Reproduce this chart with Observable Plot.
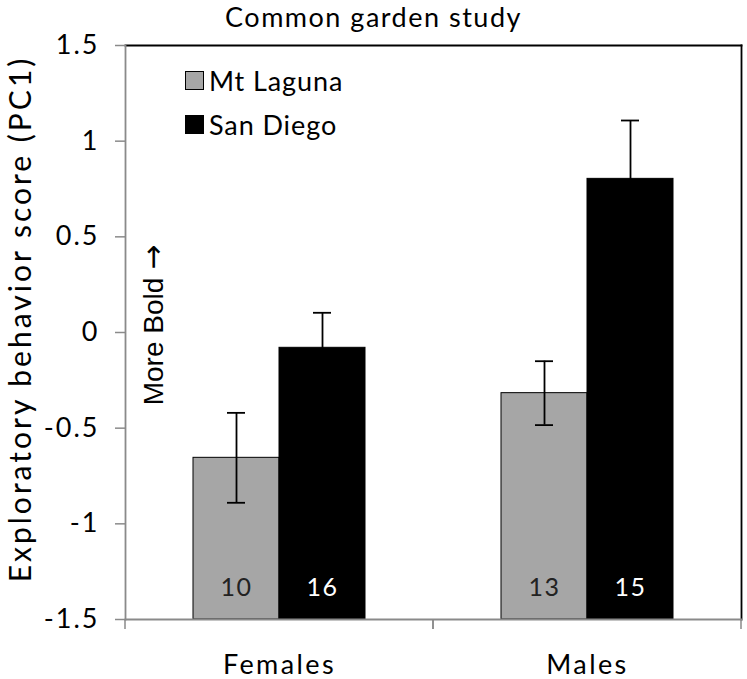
<!DOCTYPE html>
<html><head><meta charset="utf-8">
<script src="https://cdn.jsdelivr.net/npm/d3@7"></script>
<script src="https://cdn.jsdelivr.net/npm/@observablehq/plot@0.6"></script>
<style>
body{margin:0;background:#fff}
#wrap{position:relative;width:747px;height:679px;font-family:Lato,sans-serif;color:#000}
#title{position:absolute;left:0;width:747px;top:0;text-align:center;font-size:27px;line-height:34px;letter-spacing:1.5px}
.leg{position:absolute;left:185px;height:30px;display:flex;align-items:center;font-size:27px;letter-spacing:0.9px}
.sw{width:19px;height:19px;box-sizing:border-box;border:1px solid #000;margin-right:5px}
#bold{position:absolute;left:152px;top:325px;transform:translate(-50%,-50%) rotate(-90deg);font-family:"Liberation Sans",Arial,sans-serif;font-size:28px;white-space:nowrap}
#bold .arr{font-family:"DejaVu Sans",sans-serif;font-size:30px}
#ylab{position:absolute;left:19px;top:319px;transform:translate(-50%,-50%) rotate(-90deg);font-size:30px;letter-spacing:3px;white-space:nowrap}
g[aria-label="y-axis tick label"] text{letter-spacing:2px}
g[aria-label="fx-axis tick label"] text{letter-spacing:2.4px}
g[aria-label="text"] text{letter-spacing:1.5px}
</style></head><body><div id="wrap"></div>
<script>
const groups = ["Females", "Males"];
const populations = ["Mt Laguna", "San Diego"];
const popColors = ["#a6a6a6", "#000000"];
const mtLagunaMean = [-0.655, -0.317];
const sanDiegoMean = [-0.08, 0.803];
const mtLagunaErr = [0.235, 0.167];
const sanDiegoErr = [0.183, 0.305];
const mtLagunaN = [10, 13];
const sanDiegoN = [16, 15];
const yTicks = [1.5, 1, 0.5, 0, -0.5, -1, -1.5];
const yDomain = [-1.5, 1.5];
const title = "Common garden study";
const yLabel = "Exploratory behavior score (PC1)";
const boldNote = "More Bold";

const rows = groups.flatMap((g, i) => [
  {group: g, pop: populations[0], mean: mtLagunaMean[i], err: mtLagunaErr[i], n: mtLagunaN[i]},
  {group: g, pop: populations[1], mean: sanDiegoMean[i], err: sanDiegoErr[i], n: sanDiegoN[i]}
]);

function categoryTicks(index, scales, values, dimensions) {
  const sx = scales.x;
  let r = null;
  if (sx && typeof sx.range === "function") r = sx.range();
  else if (scales.scales && scales.scales.x) r = scales.scales.x.range;
  const g = d3.create("svg:g").attr("stroke", "#8a8a8a").attr("stroke-width", 1.5);
  if (!r) return g.node();
  const yb = scales.y(yDomain[0]);
  for (const xv of r) g.append("line").attr("x1", xv).attr("x2", xv).attr("y1", yb).attr("y2", yb + 10);
  return g.node();
}

const chart = Plot.plot({
  width: 747, height: 679,
  marginTop: 45, marginBottom: 60, marginLeft: 125, marginRight: 6,
  style: {fontFamily: "Lato, sans-serif", background: "transparent", color: "#000"},
  fx: {domain: groups, padding: 0},
  x: {domain: populations, paddingInner: 0, paddingOuter: 0.79, axis: null},
  y: {domain: yDomain},
  color: {domain: populations, range: popColors},
  marks: [
    Plot.barY(rows, {fx: "group", x: "pop", y1: yDomain[0], y2: "mean", fill: "pop", stroke: "#000", strokeWidth: 1}),
    Plot.ruleX(rows, {fx: "group", x: "pop", y1: d => d.mean - d.err, y2: d => d.mean + d.err, stroke: "#000", strokeWidth: 1.8}),
    Plot.tickY(rows, {fx: "group", x: "pop", y: d => d.mean + d.err, insetLeft: 34, insetRight: 34, stroke: "#000", strokeWidth: 1.8}),
    Plot.tickY(rows, {fx: "group", x: "pop", y: d => d.mean - d.err, insetLeft: 34, insetRight: 34, stroke: "#000", strokeWidth: 1.8}),
    Plot.text(rows.filter(d => d.pop === populations[0]), {fx: "group", x: "pop", text: "n", frameAnchor: "bottom", dy: -24, fill: "#222", fontSize: 25}),
    Plot.text(rows.filter(d => d.pop === populations[1]), {fx: "group", x: "pop", text: "n", frameAnchor: "bottom", dy: -24, fill: "#fff", fontSize: 25}),
    Plot.frame({facet: "super", anchor: "top", stroke: "#000", strokeWidth: 1.8}),
    Plot.frame({facet: "super", anchor: "right", stroke: "#000", strokeWidth: 1.8}),
    Plot.frame({facet: "super", anchor: "left", stroke: "#8a8a8a", strokeWidth: 1.8}),
    Plot.frame({facet: "super", anchor: "bottom", stroke: "#8a8a8a", strokeWidth: 1.8}),
    categoryTicks,
    Plot.axisY(yTicks, {tickFormat: d => String(d), tickSize: 10, tickPadding: 16, fontSize: 27, stroke: "#8a8a8a", fill: "#000", strokeWidth: 1.5, label: null}),
    Plot.axisFx({anchor: "bottom", tickSize: 0, tickPadding: 35, fontSize: 27, label: null, fill: "#000"})
  ]
});

const wrap = document.getElementById("wrap");
wrap.appendChild(chart);
chart.style.position = "absolute"; chart.style.left = "0"; chart.style.top = "0";
const t = document.createElement("div"); t.id = "title"; t.textContent = title; wrap.appendChild(t);
const yl = document.createElement("div"); yl.id = "ylab"; yl.textContent = yLabel; wrap.appendChild(yl);
populations.forEach((p, i) => {
  const row = document.createElement("div"); row.className = "leg";
  row.style.top = (65 + i * 44) + "px";
  const sw = document.createElement("div"); sw.className = "sw"; sw.style.background = popColors[i];
  const lab = document.createElement("span"); lab.textContent = p;
  row.appendChild(sw); row.appendChild(lab); wrap.appendChild(row);
});
const b = document.createElement("div"); b.id = "bold";
b.appendChild(document.createTextNode(boldNote + " "));
const arr = document.createElement("span"); arr.className = "arr"; arr.textContent = "→"; b.appendChild(arr);
wrap.appendChild(b);
</script></body></html>
